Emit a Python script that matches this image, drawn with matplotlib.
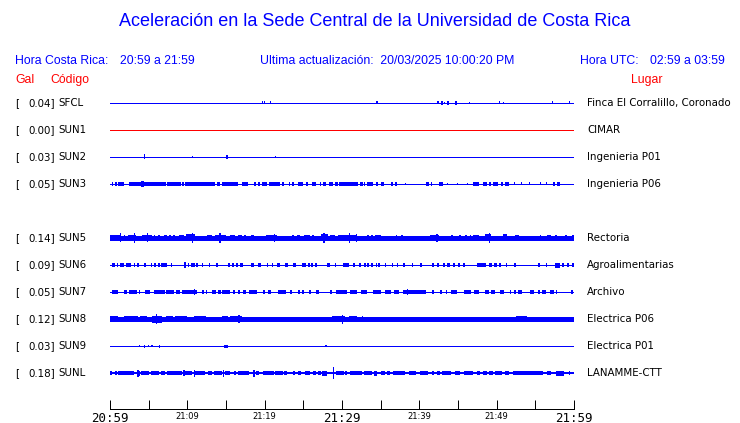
import matplotlib
matplotlib.use("Agg")
import matplotlib.pyplot as plt
from matplotlib.transforms import blended_transform_factory
from matplotlib.ticker import FixedLocator

# ---------------- data ----------------
title = "Aceleración en la Sede Central de la Universidad de Costa Rica"
hora_cr = "20:59 a 21:59"
hora_utc = "02:59 a 03:59"
actualizacion = "20/03/2025 10:00:20 PM"
start_hour, start_min = 20, 59
span_minutes = 60

stations = ["SFCL", "SUN1", "SUN2", "SUN3", "SUN5", "SUN6", "SUN7", "SUN8", "SUN9", "SUNL"]
gal = [0.04, 0.00, 0.03, 0.05, 0.14, 0.09, 0.05, 0.12, 0.03, 0.18]
places = ["Finca El Corralillo, Coronado", "CIMAR", "Ingenieria P01", "Ingenieria P06",
          "Rectoria", "Agroalimentarias", "Archivo", "Electrica P06", "Electrica P01",
          "LANAMME-CTT"]

# bursts: (start minute, end minute, half amplitude in trace units)
bursts_sfcl = [(19.6, 19.75, 1.8), (19.9, 20.05, 1.8), (20.65, 20.8, 1.8), (34.45, 34.6, 1.8),
               (42.3, 42.55, 1.8), (42.8, 43.05, 2.2), (43.15, 43.3, 1.2), (43.55, 43.85, 2.2),
               (44.6, 44.85, 2.2), (46.4, 46.55, 1.2), (50.25, 50.4, 1.8), (50.8, 50.95, 1.2),
               (57.1, 57.25, 1.8), (59.3, 59.45, 1.8)]
bursts_sun1 = []
bursts_sun2 = [(4.4, 4.55, 2.6), (10.6, 10.75, 1.2), (14.95, 15.25, 2.2), (21.3, 21.45, 1.2)]
bursts_sun3 = [(0.2, 0.35, 2), (0.7, 0.85, 2), (1.0, 1.1, 2), (1.15, 1.8, 2),
               (2.45, 4.0, 2), (4.0, 4.4, 3), (4.4, 7.25, 2), (7.35, 9.2, 2),
               (9.3, 9.55, 2), (9.7, 13.6, 2), (13.8, 14.2, 2), (14.5, 16.55, 2),
               (17.05, 17.85, 2), (18.6, 18.9, 2), (19.15, 19.4, 2), (19.65, 20.3, 2),
               (20.55, 22.0, 2), (22.25, 22.5, 2), (23.1, 23.3, 2), (23.5, 23.8, 2),
               (24.3, 24.95, 2), (25.35, 25.6, 2), (26.1, 26.65, 2), (27.15, 27.3, 2),
               (27.55, 27.95, 2), (28.3, 28.85, 2), (29.1, 29.5, 2), (29.6, 32.1, 2),
               (32.3, 32.7, 2), (32.85, 33.0, 2), (33.2, 34.0, 2), (34.4, 34.65, 2),
               (35.05, 35.45, 2), (36.35, 36.6, 2), (36.85, 37.1, 2), (38.1, 38.25, 1.2),
               (40.85, 41.25, 2), (41.5, 41.65, 2), (42.55, 43.05, 2), (43.55, 43.7, 1.2),
               (44.85, 45.0, 1.2), (46.15, 46.3, 1.2), (46.95, 47.7, 2), (48.25, 48.75, 2),
               (49.0, 49.25, 2), (49.5, 50.15, 2), (50.55, 50.8, 2), (51.05, 51.6, 2),
               (52.2, 52.35, 1.5), (53.1, 53.25, 1.5), (54.15, 54.3, 1.5), (55.55, 55.7, 1.5),
               (56.35, 56.5, 1.5), (57.3, 57.55, 2), (57.8, 58.2, 2)]
bursts_sun5 = [(0.0, 1.42, 3), (1.25, 1.4, 4.5), (1.75, 1.9, 2.5), (2.33, 3.36, 3), (3.05, 3.2, 5),
               (4.14, 5.43, 3), (4.75, 4.9, 4.5), (5.65, 5.8, 2.5), (6.21, 6.47, 2.5), (6.98, 7.37, 2.5),
               (7.63, 7.89, 2.5), (8.15, 8.4, 2.5), (8.92, 9.57, 3), (9.83, 10.99, 3.5), (10.55, 10.7, 5),
               (12.54, 13.19, 2.5), (13.58, 15.0, 3), (14.15, 14.3, 5), (15.52, 16.16, 2.5),
               (16.55, 17.07, 2.5), (17.33, 17.58, 2.5), (18.23, 18.62, 3), (20.17, 21.59, 3),
               (21.15, 21.3, 4), (23.53, 23.79, 2.5), (24.18, 24.57, 2.5), (25.08, 25.86, 2.5),
               (26.12, 26.38, 2.5), (27.28, 28.19, 3.5), (27.6, 27.75, 5), (28.45, 29.09, 2.5),
               (29.48, 30.39, 2.5), (29.74, 31.94, 3), (30.85, 31.0, 5), (31.75, 31.9, 4),
               (33.23, 33.49, 2.5), (33.75, 34.01, 2.5), (34.26, 35.04, 2.5), (35.9, 36.05, 2.2),
               (36.98, 37.11, 2.5), (37.63, 37.88, 2.5), (41.38, 42.54, 3), (42.2, 42.35, 4),
               (44.09, 44.35, 2.5), (45.13, 45.38, 2.5), (45.9, 46.16, 2.5), (46.55, 46.68, 2.5),
               (46.94, 47.71, 2.5), (48.49, 49.26, 3.5), (48.95, 49.1, 5), (50.81, 51.33, 3.5),
               (52.37, 52.88, 3), (55.55, 55.7, 2.5), (56.5, 57.02, 2.5), (57.6, 57.75, 2.5),
               (58.9, 59.05, 2.5), (59.74, 60.0, 3)]
bursts_sun6 = [(0.26, 0.65, 2), (0.91, 1.03, 2), (1.29, 1.81, 2), (2.07, 2.72, 2),
               (3.1, 3.23, 2), (3.55, 3.7, 2), (4.45, 4.6, 2), (5.25, 5.4, 2),
               (5.75, 5.9, 2), (6.21, 6.47, 2), (6.59, 7.37, 2), (7.89, 8.02, 2),
               (9.57, 9.83, 3.2), (10.09, 10.21, 2), (10.47, 10.99, 2), (11.12, 11.38, 2),
               (11.85, 12.0, 2), (12.8, 12.93, 2), (13.71, 13.96, 2), (15.26, 15.52, 2),
               (15.77, 16.03, 2), (16.29, 16.55, 2), (16.81, 17.2, 2), (18.23, 18.62, 2),
               (19.14, 19.52, 2), (20.3, 20.43, 2), (20.95, 21.08, 2), (21.6, 21.98, 2),
               (22.63, 23.02, 2), (23.66, 24.05, 2), (24.83, 25.34, 2), (25.6, 25.86, 2),
               (25.99, 26.25, 2), (26.51, 26.77, 2), (28.06, 28.45, 2), (29.09, 29.22, 2),
               (30.13, 30.9, 2), (31.42, 31.68, 2), (32.25, 32.4, 2), (32.9, 33.05, 2),
               (33.23, 33.49, 2), (33.75, 34.01, 2), (34.39, 34.52, 2), (34.7, 34.85, 2),
               (35.6, 35.75, 2), (36.46, 36.59, 2), (37.11, 37.24, 2), (37.88, 38.14, 2),
               (39.05, 39.18, 2), (40.15, 40.3, 2), (41.7, 41.85, 2), (42.28, 42.54, 2),
               (43.06, 43.32, 2), (43.57, 43.96, 2), (44.35, 44.61, 2), (45.0, 45.26, 2),
               (45.7, 45.85, 2), (47.45, 48.62, 2.3), (49.0, 49.39, 2), (49.65, 50.04, 2),
               (50.35, 50.5, 2), (51.15, 51.3, 2), (52.3, 52.45, 2), (55.4, 55.55, 2),
               (56.37, 56.5, 2), (57.54, 58.19, 2.5), (58.44, 58.7, 2), (59.09, 59.35, 2),
               (59.74, 60.0, 2)]
bursts_sun7 = [(0.26, 1.03, 2), (1.81, 2.2, 2), (2.46, 3.49, 2), (3.75, 3.88, 2),
               (4.53, 5.17, 2), (5.69, 7.11, 2), (7.24, 8.28, 2), (8.53, 9.05, 2),
               (9.31, 11.25, 2), (10.8, 10.95, 3.2), (11.9, 12.15, 2), (12.41, 12.54, 2),
               (13.19, 13.71, 2), (13.96, 14.35, 2), (14.48, 15.52, 2), (15.9, 16.16, 2),
               (16.55, 16.81, 2), (17.2, 17.58, 2), (17.97, 19.01, 2), (19.78, 20.04, 2),
               (20.43, 20.82, 2), (21.72, 22.76, 2), (23.27, 23.53, 2), (24.31, 24.57, 2),
               (24.83, 25.08, 2), (25.73, 25.99, 2), (26.64, 27.02, 2), (28.5, 28.65, 2),
               (29.22, 30.64, 2), (31.03, 31.94, 2), (32.45, 33.23, 2), (34.01, 35.04, 2),
               (35.56, 36.33, 2), (36.72, 37.37, 2), (37.88, 40.86, 2), (38.35, 38.5, 3.2),
               (41.63, 41.89, 2), (42.67, 42.93, 2), (43.44, 43.57, 2), (44.09, 44.87, 2),
               (45.77, 46.68, 2), (47.07, 47.71, 2), (48.49, 49.0, 2), (49.26, 49.78, 2),
               (50.43, 50.94, 2), (51.72, 51.85, 2), (52.24, 52.5, 2), (52.75, 53.27, 2),
               (54.31, 54.82, 2), (55.34, 55.6, 2), (55.86, 56.37, 2), (56.89, 57.41, 2),
               (57.67, 57.8, 2), (59.61, 59.87, 2)]
bursts_sun8 = [(0.0, 1.03, 3.2), (1.81, 3.62, 2.7), (3.88, 4.78, 3.2), (5.43, 6.72, 3.5), (5.9, 6.05, 5),
               (7.24, 8.15, 2.7), (8.4, 9.96, 3.2), (10.86, 12.41, 3.2), (14.48, 15.26, 2.7),
               (15.52, 17.07, 3.2), (16.6, 16.75, 4), (17.46, 18.1, 2.3), (20.69, 20.95, 2.3),
               (21.6, 21.98, 2.3), (22.63, 23.27, 2.3), (24.83, 25.08, 2.3), (26.3, 26.45, 2.3),
               (28.71, 30.39, 2.7), (29.74, 30.26, 3.2), (29.95, 30.1, 4.5), (30.9, 31.94, 3.2),
               (32.58, 32.71, 2.7), (38.85, 39.0, 2.3), (42.2, 42.35, 2.3), (50.75, 50.9, 2.3),
               (52.5, 53.92, 3.2), (57.45, 57.6, 2.3)]
bursts_sun9 = [(3.7, 3.85, 1.2), (4.35, 4.5, 1.6), (4.85, 5.0, 1.2), (5.35, 5.5, 1.2),
               (6.3, 6.45, 1.6), (14.74, 15.26, 1.6), (27.85, 28.0, 1.2)]
bursts_sunl = [(0.0, 0.26, 2.2), (0.65, 0.91, 2.2), (1.03, 3.1, 2.2), (3.49, 3.88, 2.5), (3.55, 3.7, 3.5),
               (4.01, 5.04, 2.2), (5.3, 6.34, 2.2), (6.59, 7.11, 2.2), (7.37, 9.31, 2.2), (9.5, 9.65, 2.8),
               (9.7, 10.6, 2.2), (10.8, 10.95, 3.4), (10.99, 12.28, 2.2), (12.67, 13.19, 2.2),
               (13.45, 14.48, 2.2), (14.55, 14.7, 3.4), (14.87, 15.52, 2.2), (16.03, 16.29, 2.2),
               (16.55, 17.97, 2.2), (18.55, 18.7, 3.4), (18.88, 19.27, 2.2), (19.78, 21.2, 2.2),
               (21.33, 22.37, 2.2), (22.5, 22.89, 2.2), (23.66, 23.92, 2.2), (24.31, 24.7, 2.2),
               (25.21, 25.86, 2.2), (26.25, 26.64, 2.2), (26.89, 27.28, 2.2), (27.41, 28.06, 2.6),
               (28.9, 29.0, 6), (29.22, 30.26, 2.2), (30.39, 30.64, 2.2), (31.03, 32.58, 2.2),
               (32.84, 33.88, 2.2), (34.14, 34.52, 2.6), (35.04, 35.56, 2.2), (35.82, 36.2, 2.2),
               (36.59, 38.14, 2.2), (38.66, 39.57, 2.2), (40.08, 41.12, 2.2), (41.63, 41.89, 2.2),
               (42.28, 42.67, 2.2), (42.93, 44.09, 2.2), (44.61, 45.26, 2.2), (45.77, 46.94, 2.2),
               (47.45, 47.84, 2.2), (48.23, 48.75, 2.2), (49.0, 49.52, 2.2), (49.78, 50.69, 2.2),
               (51.07, 51.59, 2.2), (52.11, 55.99, 2.2), (56.5, 57.02, 2.2), (57.67, 58.7, 2.6),
               (59.3, 59.45, 2.2)]
station_bursts = [bursts_sfcl, bursts_sun1, bursts_sun2, bursts_sun3, bursts_sun5,
                  bursts_sun6, bursts_sun7, bursts_sun8, bursts_sun9, bursts_sunl]

# ---------------- styles ----------------
BLUE = "#0000ff"
RED = "#ff0000"
trace_colors = [BLUE, RED, BLUE, BLUE, BLUE, BLUE, BLUE, BLUE, BLUE, BLUE]
base_width_px = [1, 1, 1, 1, 3.3, 1, 1, 3.3, 1, 1.5]
PX = 0.72  # points per pixel at dpi 100

W, H = 740, 423
fig = plt.figure(figsize=(W / 100, H / 100), dpi=100)
fig.patch.set_facecolor("white")

ax_top, ax_bot = 90, 409
ax = fig.add_axes([110 / W, (H - ax_bot) / H, 464 / W, (ax_bot - ax_top) / H])
ax.set_xlim(0, span_minutes)
ax.set_ylim(ax_bot, ax_top)  # y in pixel rows from top
ax.patch.set_alpha(0)
for s in ("left", "right", "top"):
    ax.spines[s].set_visible(False)
ax.spines["bottom"].set_linewidth(1 * PX)
ax.set_yticks([])

row0, row_step = 102.7, 27.05
slots = [i if i < 4 else i + 1 for i in range(len(stations))]  # empty row for SUN4

tr = blended_transform_factory(fig.transFigure, ax.transData)
label_font = ["DejaVu Sans"]
lfs = 7.4
for i, name in enumerate(stations):
    y = row0 + row_step * slots[i]
    c = trace_colors[i]
    ax.hlines(y, 0, span_minutes, color=c, lw=base_width_px[i] * PX, antialiased=False)
    for (t0, t1, a) in station_bursts[i]:
        ax.bar(t0, 2 * a, width=max(t1 - t0, 0.13), bottom=y - a, align="edge",
               color=c, linewidth=0, antialiased=False)
    ty = y - 0.8
    ax.text(15 / W, ty, "[", transform=tr, fontsize=lfs, family=label_font,
            ha="left", va="center_baseline")
    ax.text(55 / W, ty, f"{gal[i]:.2f}]", transform=tr, fontsize=lfs, family=label_font,
            ha="right", va="center_baseline")
    ax.text(58 / W, ty, name, transform=tr, fontsize=lfs, family=label_font,
            ha="left", va="center_baseline")
    ax.text(587 / W, ty, places[i], transform=tr, fontsize=lfs, family=label_font,
            ha="left", va="center_baseline")

# time axis
major = list(range(0, span_minutes + 1, 10))
minor = list(range(5, span_minutes, 10))
ax.xaxis.set_major_locator(FixedLocator(major))
ax.xaxis.set_minor_locator(FixedLocator(minor))
labels = []
for m in major:
    tot = start_hour * 60 + start_min + m
    labels.append(f"{tot // 60:02d}:{tot % 60:02d}")
ax.set_xticklabels(labels)
ax.tick_params(axis="x", which="both", direction="in", length=9 * PX, width=1 * PX,
               color="black", pad=1.8)
for k, lab in enumerate(ax.get_xticklabels()):
    if major[k] % 30 == 0:
        lab.set_fontfamily("DejaVu Sans Mono")
        lab.set_fontsize(9)
    else:
        lab.set_fontfamily("DejaVu Sans")
        lab.set_fontsize(6)

# header
hfont = ["Liberation Sans", "DejaVu Sans"]
fig.text(375 / W, 1 - 22 / H, title, color=BLUE, fontsize=13.0, family=hfont,
         ha="center", va="center")
hy = 1 - 61 / H
hs = 8.8
fig.text(15 / W, hy, "Hora Costa Rica:", color=BLUE, fontsize=hs, family=hfont, ha="left", va="center")
fig.text(120 / W, hy, hora_cr, color=BLUE, fontsize=hs, family=hfont, ha="left", va="center")
fig.text(260 / W, hy, "Ultima actualización:  " + actualizacion, color=BLUE, fontsize=hs,
         family=hfont, ha="left", va="center")
fig.text(580 / W, hy, "Hora UTC:", color=BLUE, fontsize=hs, family=hfont, ha="left", va="center")
fig.text(725 / W, hy, hora_utc, color=BLUE, fontsize=hs, family=hfont, ha="right", va="center")
gy = 1 - 80 / H
fig.text(15 / W, gy, "Gal", color=RED, fontsize=hs, family=hfont, ha="left", va="center")
fig.text(50 / W, gy, "Código", color=RED, fontsize=hs, family=hfont, ha="left", va="center")
fig.text(631 / W, gy, "Lugar", color=RED, fontsize=hs, family=hfont, ha="left", va="center")

fig.savefig("out.png", dpi=100)
